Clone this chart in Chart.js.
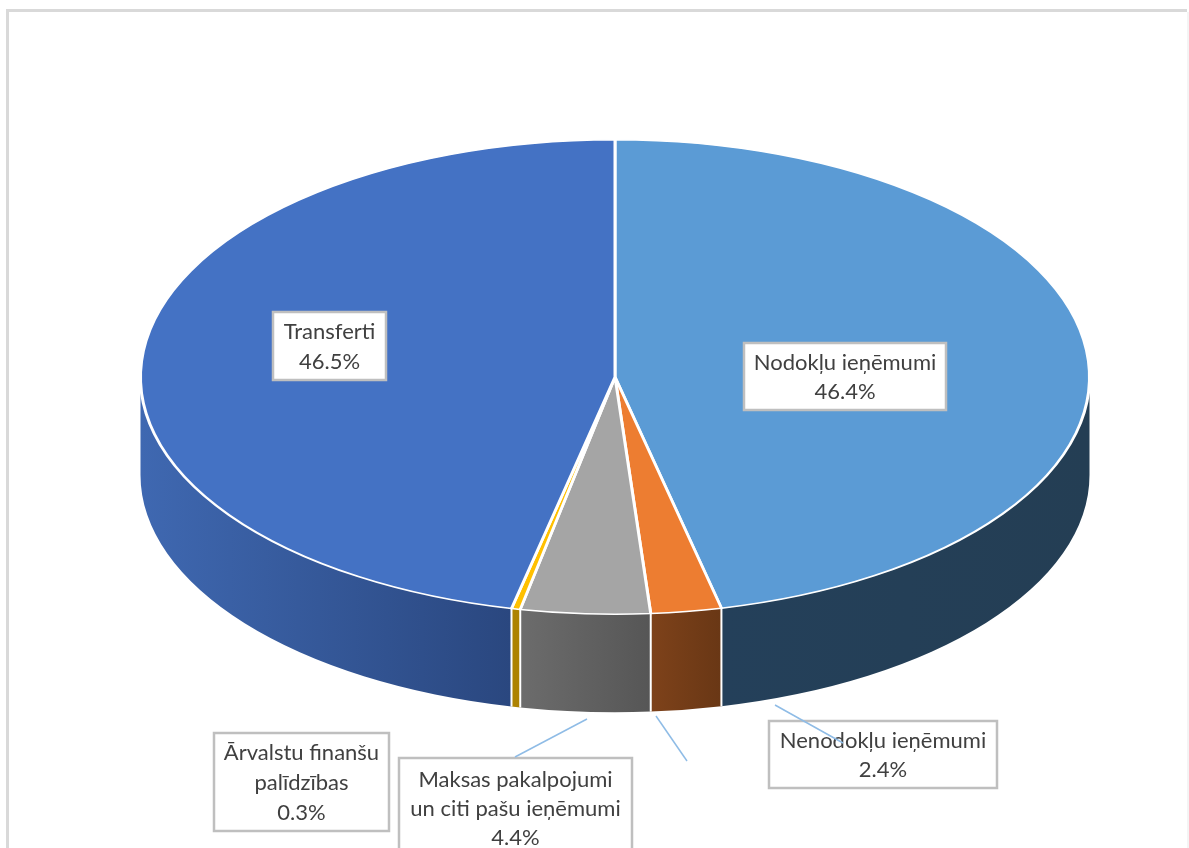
<!DOCTYPE html>
<html>
<head>
<meta charset="utf-8">
<title>Ieņēmumi</title>
<script src="https://cdn.jsdelivr.net/npm/chart.js@4/dist/chart.umd.min.js"></script>
<style>
    html, body { margin: 0; padding: 0; background: #fff; overflow: hidden; }
    #wrap { width: 1189px; height: 848px; overflow: hidden; }
    canvas { display: block; }
</style>
</head>
<body>
<div id="wrap"><canvas id="pieChart" width="1189" height="960"></canvas></div>
<script>
const categories = ['Nodokļu ieņēmumi', 'Nenodokļu ieņēmumi', 'Maksas pakalpojumi un citi pašu ieņēmumi', 'Ārvalstu finanšu palīdzības', 'Transferti'];
const shares = [46.4, 2.4, 4.4, 0.3, 46.5];
const topColors = ['#5B9BD5', '#ED7D31', '#A5A5A5', '#FFC000', '#4472C4'];
const sideLeft = ['#24405A', '#7E421A', '#6C6C6C', '#AD8302', '#3F68B1'];
const sideRight = ['#243E54', '#693715', '#565656', '#AD8302', '#2A477F'];

// the pie is drawn as a circle by Chart.js and squashed onto this ellipse
const centerY = 377;
const squash = 0.5;
const depth = 98;

// label boxes: lines come from categories, the last line from shares
const boxes = [
    { x: 744, y: 343, w: 202, h: 67, lines: ['Nodokļu ieņēmumi'], ys: [363, 392] },
    { x: 769, y: 721, w: 228, h: 67, lines: ['Nenodokļu ieņēmumi'], ys: [741, 770] },
    { x: 399, y: 758, w: 233, h: 100, lines: ['Maksas pakalpojumi', 'un citi pašu ieņēmumi'], ys: [780, 809, 838] },
    { x: 214, y: 733, w: 175, h: 98, lines: ['Ārvalstu finanšu', 'palīdzības'], ys: [753, 783, 813] },
    { x: 273, y: 312, w: 113, h: 68, lines: ['Transferti'], ys: [332, 362] }
];
const leaders = [
    [515, 757, 587, 719],
    [656, 716, 687, 761],
    [775, 705, 843, 743]
];

const pie3d = {
    id: 'pie3d',
    beforeDraw(chart) {
        const ctx = chart.ctx;
        ctx.save();
        ctx.fillStyle = '#fff';
        ctx.fillRect(0, 0, chart.width, chart.height);
        ctx.strokeStyle = '#d9d9d9';
        ctx.lineWidth = 3;
        ctx.beginPath();
        ctx.moveTo(7.5, chart.height);
        ctx.lineTo(7.5, 10.5);
        ctx.lineTo(1187, 10.5);
        ctx.stroke();
        ctx.strokeStyle = '#e9e9e9';
        ctx.lineWidth = 1;
        ctx.beginPath();
        ctx.moveTo(1188, 12);
        ctx.lineTo(1188, chart.height);
        ctx.stroke();
        ctx.restore();
    },
    beforeDatasetsDraw(chart) {
        const ctx = chart.ctx;
        const arcs = chart.getDatasetMeta(0).data;
        const cx = arcs[0].x;
        const r = arcs[0].outerRadius;

        // the rim: only the part of each slice facing the viewer
        arcs.forEach(function (arc, i) {
            const a0 = Math.max(arc.startAngle, 0);
            const a1 = Math.min(arc.endAngle, Math.PI);
            if (a1 <= a0) return;
            const x0 = cx + r * Math.cos(a1);
            const x1 = cx + r * Math.cos(a0);
            const grad = ctx.createLinearGradient(x0, 0, x1, 0);
            grad.addColorStop(0, sideLeft[i]);
            grad.addColorStop(1, sideRight[i]);
            ctx.save();
            ctx.translate(cx, centerY);
            ctx.beginPath();
            ctx.ellipse(0, 0, r, r * squash, 0, a0, a1);
            ctx.ellipse(0, depth, r, r * squash, 0, a1, a0, true);
            ctx.closePath();
            ctx.translate(-cx, -centerY);
            ctx.fillStyle = grad;
            ctx.fill();
            ctx.restore();
        });

        // white seams between the rim pieces
        ctx.save();
        ctx.strokeStyle = '#fff';
        ctx.lineWidth = 2;
        arcs.forEach(function (arc) {
            const a = arc.endAngle;
            if (a <= 0 || a >= Math.PI) return;
            const x = cx + r * Math.cos(a);
            const y = centerY + r * squash * Math.sin(a);
            ctx.beginPath();
            ctx.moveTo(x, y);
            ctx.lineTo(x, y + depth);
            ctx.stroke();
        });
        ctx.restore();

        ctx.save();
        ctx.translate(0, centerY);
        ctx.scale(1, squash);
        ctx.translate(0, -arcs[0].y);
    },
    afterDatasetsDraw(chart) {
        chart.ctx.restore();
    },
    afterDraw(chart) {
        const ctx = chart.ctx;
        ctx.save();
        boxes.forEach(function (b, i) {
            ctx.fillStyle = '#fff';
            ctx.fillRect(b.x, b.y, b.w, b.h);
            ctx.strokeStyle = '#bfbfbf';
            ctx.lineWidth = 2.5;
            ctx.strokeRect(b.x, b.y, b.w, b.h);
            ctx.fillStyle = '#404040';
            ctx.font = '22px Lato';
            ctx.textAlign = 'center';
            ctx.textBaseline = 'middle';
            const text = b.lines.concat(shares[i].toFixed(1) + '%');
            text.forEach(function (line, j) {
                ctx.fillText(line, b.x + b.w / 2, b.ys[j]);
            });
        });
        ctx.strokeStyle = '#8FBCE6';
        ctx.lineWidth = 1.5;
        leaders.forEach(function (l) {
            ctx.beginPath();
            ctx.moveTo(l[0], l[1]);
            ctx.lineTo(l[2], l[3]);
            ctx.stroke();
        });
        ctx.restore();
    }
};

new Chart(document.getElementById('pieChart'), {
    type: 'pie',
    data: {
        labels: categories,
        datasets: [{
            data: shares,
            backgroundColor: topColors,
            borderColor: '#fff',
            borderWidth: 3
        }]
    },
    options: {
        responsive: false,
        animation: false,
        devicePixelRatio: 1,
        layout: { padding: { left: 139, right: 98, top: 4, bottom: 4 } },
        plugins: {
            legend: { display: false },
            tooltip: { enabled: false }
        }
    },
    plugins: [pie3d]
});
</script>
</body>
</html>
